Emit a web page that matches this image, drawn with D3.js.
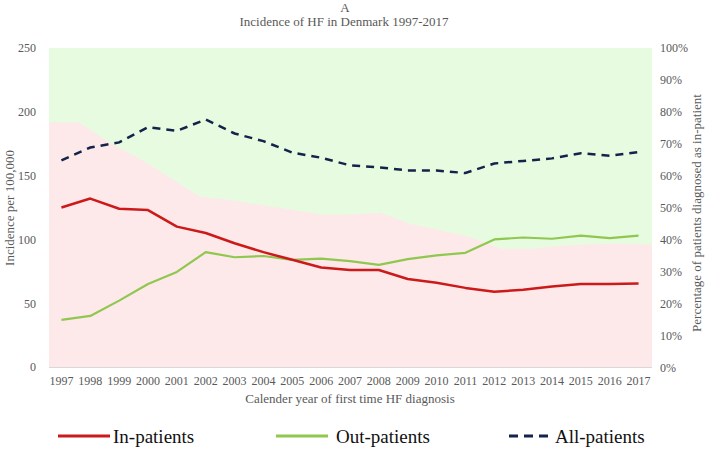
<!DOCTYPE html>
<html>
<head>
<meta charset="utf-8">
<script src="https://cdn.jsdelivr.net/npm/d3@7"></script>
<style>
  html, body { margin: 0; padding: 0; background: #fff; }
  svg { display: block; }
  svg text { font-family: "Liberation Serif", "Times New Roman", serif !important; fill: #595959; }
</style>
</head>
<body>
<svg id="chart" width="708" height="449"></svg>
<script>
const years = [1997,1998,1999,2000,2001,2002,2003,2004,2005,2006,2007,2008,2009,2010,2011,2012,2013,2014,2015,2016,2017];
const inPatients  = [125,132,124,123,110,105,97,90,84,78,76,76,69,66,62,59,60.5,63,65,65,65.5];
const outPatients = [37,40,52,65,74.5,90,86,87,84,85,83,80,84.5,87.5,89.5,100,101.5,100.5,103,101,103];
const allPatients = [162,172,176,188,185,194,183,177,168,164,158,156.5,154,154,152,159.5,161.5,163.5,167.5,165.5,168.5];
const inPatientShare = [76.8,76.7,70.5,65.5,59.5,53.5,52.5,51,49.5,48,48,48.5,45,43,40.8,37.3,37.2,38.2,38.7,38.8,38.5];
const leftTicks = [0,50,100,150,200,250];
const rightTicks = [0,10,20,30,40,50,60,70,80,90,100];

const svg = d3.select("#chart");
svg.append("rect").attr("width",708).attr("height",449).attr("fill","#fff");

const plotL = 49, plotR = 652, plotT = 48, plotB = 367;

const yL = d3.scaleLinear().domain([0,250]).range([plotB, plotT]);
const yR = d3.scaleLinear().domain([0,100]).range([plotB+1, plotT]);
const xArea = d3.scalePoint().domain(years).range([plotL, plotR]);
const xBand = d3.scaleBand().domain(years).range([47, 653]);
const xc = d => xBand(d) + xBand.bandwidth()/2;

// background areas
svg.append("rect").attr("x", plotL).attr("y", yR(100)).attr("width", plotR-plotL).attr("height", yR(0)-yR(100)).attr("fill", "#e7fbe0");
const area = d3.area().x((d,i)=>xArea(years[i])).y0(yR(0)).y1(d=>yR(d));
svg.append("path").datum(inPatientShare).attr("d", area).attr("fill", "#fde9e9");

// baseline
svg.append("line").attr("x1", plotL).attr("x2", plotR).attr("y1", plotB+0.5).attr("y2", plotB+0.5).attr("stroke", "#d9d9d9").attr("stroke-width", 1);

function styleAxis(g) {
  g.attr("font-family", "Liberation Serif, serif").attr("font-size", 12);
  g.select(".domain").remove();
  g.selectAll("text").attr("fill", "#595959").style("fill", "#595959")
    .style("font-family", "'Liberation Serif', serif").style("font-size", "12px");
}

// left axis
const gL = svg.append("g").attr("transform", `translate(38,0)`)
  .call(d3.axisLeft(yL).tickValues(leftTicks).tickSize(0).tickPadding(2));
styleAxis(gL);

// right axis
const gR = svg.append("g").attr("transform", `translate(658,0)`)
  .call(d3.axisRight(yR).tickValues(rightTicks).tickSize(0).tickPadding(2).tickFormat(d=>d+"%"));
styleAxis(gR);

// bottom axis
const gB = svg.append("g").attr("transform", `translate(0,${plotB+6})`)
  .call(d3.axisBottom(xBand).tickSize(0).tickPadding(3));
styleAxis(gB);

// lines
const line = d3.line().x((d,i)=>xc(years[i])).y(d=>yL(d));
svg.append("path").datum(outPatients).attr("d", line).attr("fill","none").attr("stroke","#8fc74f").attr("stroke-width",2.2).attr("stroke-linejoin","round");
svg.append("path").datum(inPatients).attr("d", line).attr("fill","none").attr("stroke","#cc1a1a").attr("stroke-width",2.5).attr("stroke-linejoin","round");
svg.append("path").datum(allPatients).attr("d", line).attr("fill","none").attr("stroke","#14234a").attr("stroke-width",2.5).attr("stroke-dasharray","8,6");

// titles
svg.append("text").attr("x",345).attr("y",12).attr("text-anchor","middle").style("font-size","13px").text("A");
svg.append("text").attr("x",344).attr("y",26).attr("text-anchor","middle").style("font-size","13px").text("Incidence of HF in Denmark 1997-2017");
svg.append("text").attr("x",350).attr("y",403).attr("text-anchor","middle").style("font-size","13px").text("Calender year of first time HF diagnosis");
svg.append("text").attr("transform","translate(14,208) rotate(-90)").attr("text-anchor","middle").style("font-size","13px").text("Incidence per 100,000");
svg.append("text").attr("transform","translate(701,213) rotate(-90)").attr("text-anchor","middle").style("font-size","13px").text("Percentage of patients diagnosed as in-patient");

// legend
const legend = [
  {name:"In-patients", color:"#cc1a1a", dash:null, x1:58, x2:110, tx:113},
  {name:"Out-patients", color:"#8fc74f", dash:null, x1:276, x2:328, tx:336},
  {name:"All-patients", color:"#14234a", dash:"9,6", x1:509, x2:553, tx:555}
];
legend.forEach(l=>{
  svg.append("line").attr("x1",l.x1).attr("x2",l.x2).attr("y1",436).attr("y2",436)
    .attr("stroke",l.color).attr("stroke-width",3).attr("stroke-dasharray",l.dash);
  svg.append("text").attr("x",l.tx).attr("y",443).style("font-size","19px").style("fill","#111").text(l.name);
});
</script>
</body>
</html>
